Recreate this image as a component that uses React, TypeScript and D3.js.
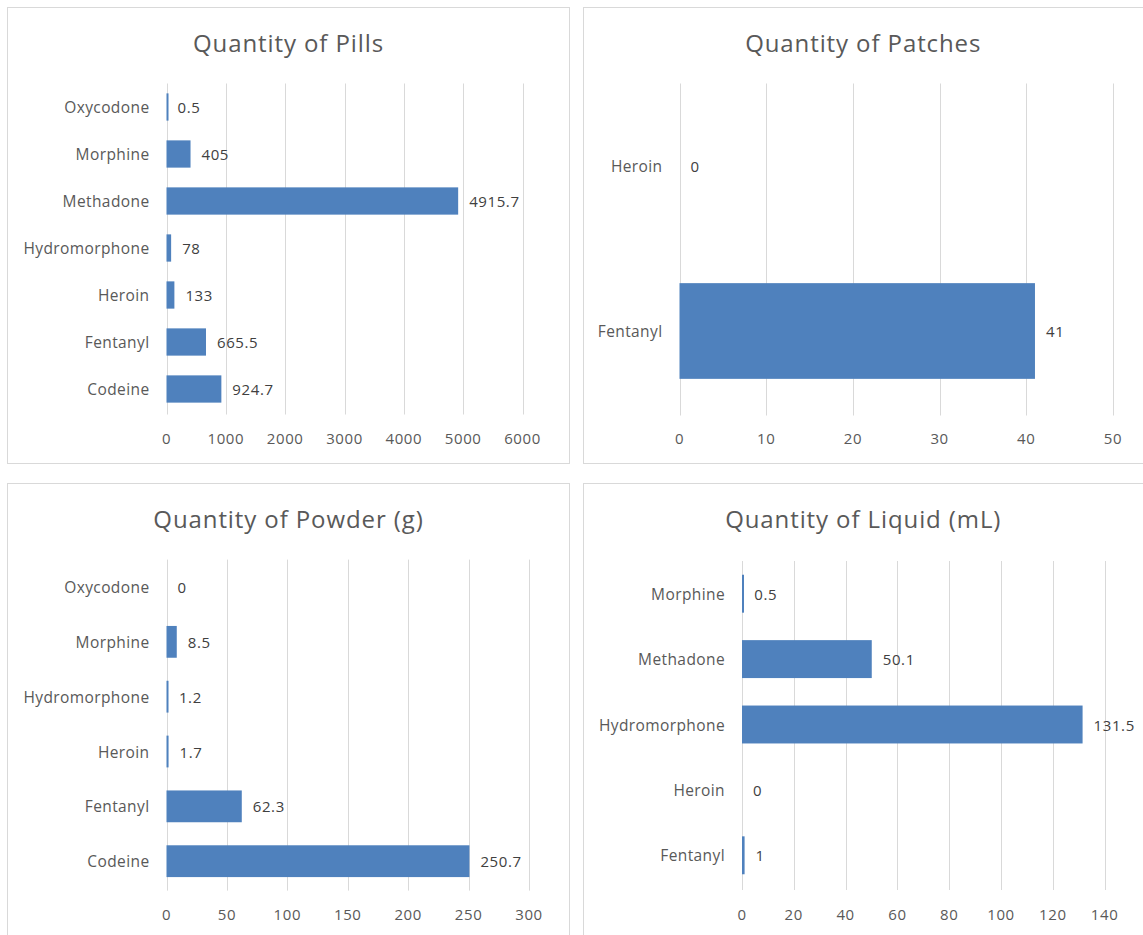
import React from "react";
import * as d3 from "d3";

// ---------- data ----------
const pillsCategories = ["Oxycodone", "Morphine", "Methadone", "Hydromorphone", "Heroin", "Fentanyl", "Codeine"];
const pillsValues = [0.5, 405, 4915.7, 78, 133, 665.5, 924.7];
const pillsTicks = [0, 1000, 2000, 3000, 4000, 5000, 6000];

const patchesCategories = ["Heroin", "Fentanyl"];
const patchesValues = [0, 41];
const patchesTicks = [0, 10, 20, 30, 40, 50];

const powderCategories = ["Oxycodone", "Morphine", "Hydromorphone", "Heroin", "Fentanyl", "Codeine"];
const powderValues = [0, 8.5, 1.2, 1.7, 62.3, 250.7];
const powderTicks = [0, 50, 100, 150, 200, 250, 300];

const liquidCategories = ["Morphine", "Methadone", "Hydromorphone", "Heroin", "Fentanyl"];
const liquidValues = [0.5, 50.1, 131.5, 0, 1];
const liquidTicks = [0, 20, 40, 60, 80, 100, 120, 140];

const FONT = "'Open Sans', 'DejaVu Sans', sans-serif";
const BAR = "#4f81bd";
const GRID = "#d9d9d9";
const BORDER = "#d9d9d9";

type PanelProps = {
  title: string;
  categories: string[];
  values: number[];
  ticks: number[];
  box: [number, number, number, number]; // x, y, w, h
  plot: [number, number, number, number]; // x0, x1, y0, y1
  titleY: number;
  tickY: number;
};

function Panel({ title, categories, values, ticks, box, plot, titleY, tickY }: PanelProps) {
  const [bx, by, bw, bh] = box;
  const [x0, x1, y0, y1] = plot;
  const x = d3.scaleLinear().domain([0, ticks[ticks.length - 1]]).range([x0, x1]);
  const y = d3.scaleBand<string>().domain(categories).range([y0, y1]).paddingInner(0.42).paddingOuter(0.21);
  const cx = (bx + Math.min(bx + bw, 1143)) / 2;
  return (
    <g>
      <rect x={bx} y={by} width={bw} height={bh} fill="#fff" stroke={BORDER} strokeWidth={1} />
      <text x={cx} y={titleY} textAnchor="middle" dominantBaseline="central"
        fontFamily={FONT} fontSize={24} letterSpacing={0.9} fill="#595959">{title}</text>
      {ticks.map((t) => (
        <g key={t}>
          <line x1={Math.round(x(t)) + 0.5} x2={Math.round(x(t)) + 0.5} y1={y0} y2={y1 + 2} stroke={GRID} strokeWidth={1} />
          <text x={x(t)} y={tickY} textAnchor="middle" dominantBaseline="central" fontFamily={FONT}
            fontSize={15} letterSpacing={0.6} fill="#595959">{t}</text>
        </g>
      ))}
      {categories.map((c, i) => {
        const v = values[i];
        const w = v > 0 ? Math.max(x(v) - x(0), 2) : 0;
        const yc = (y(c) as number) + y.bandwidth() / 2;
        return (
          <g key={c}>
            {w > 0 && <rect x={x(0)} y={y(c)} width={w} height={y.bandwidth()} fill={BAR} />}
            <text x={x(0) - 17} y={yc} textAnchor="end" dominantBaseline="central" fontFamily={FONT}
              fontSize={15.5} letterSpacing={0.4} fill="#595959">{c}</text>
            <text x={x(v) + 11} y={yc} textAnchor="start" dominantBaseline="central" fontFamily={FONT}
              fontSize={15} letterSpacing={0.6} fill="#404040">{String(v)}</text>
          </g>
        );
      })}
    </g>
  );
}

export default function App() {
  return (
    <svg width={1143} height={935} style={{ position: "absolute", left: 0, top: 0, background: "#fff" }}>
      <rect x={0} y={0} width={1143} height={935} fill="#fff" />
      <Panel title="Quantity of Pills" categories={pillsCategories} values={pillsValues} ticks={pillsTicks}
        box={[7.5, 7.5, 562, 456]} plot={[166.5, 522.5, 83.5, 412.5]} titleY={42} tickY={438} />
      <Panel title="Quantity of Patches" categories={patchesCategories} values={patchesValues} ticks={patchesTicks}
        box={[583.5, 7.5, 580, 456]} plot={[679.5, 1113, 83.5, 413.5]} titleY={42} tickY={438} />
      <Panel title="Quantity of Powder (g)" categories={powderCategories} values={powderValues} ticks={powderTicks}
        box={[7.5, 483.5, 562, 470]} plot={[166.5, 529, 559.6, 888.6]} titleY={518} tickY={914} />
      <Panel title="Quantity of Liquid (mL)" categories={liquidCategories} values={liquidValues} ticks={liquidTicks}
        box={[583.5, 483.5, 580, 470]} plot={[742, 1104.6, 561, 888]} titleY={518} tickY={914} />
    </svg>
  );
}
